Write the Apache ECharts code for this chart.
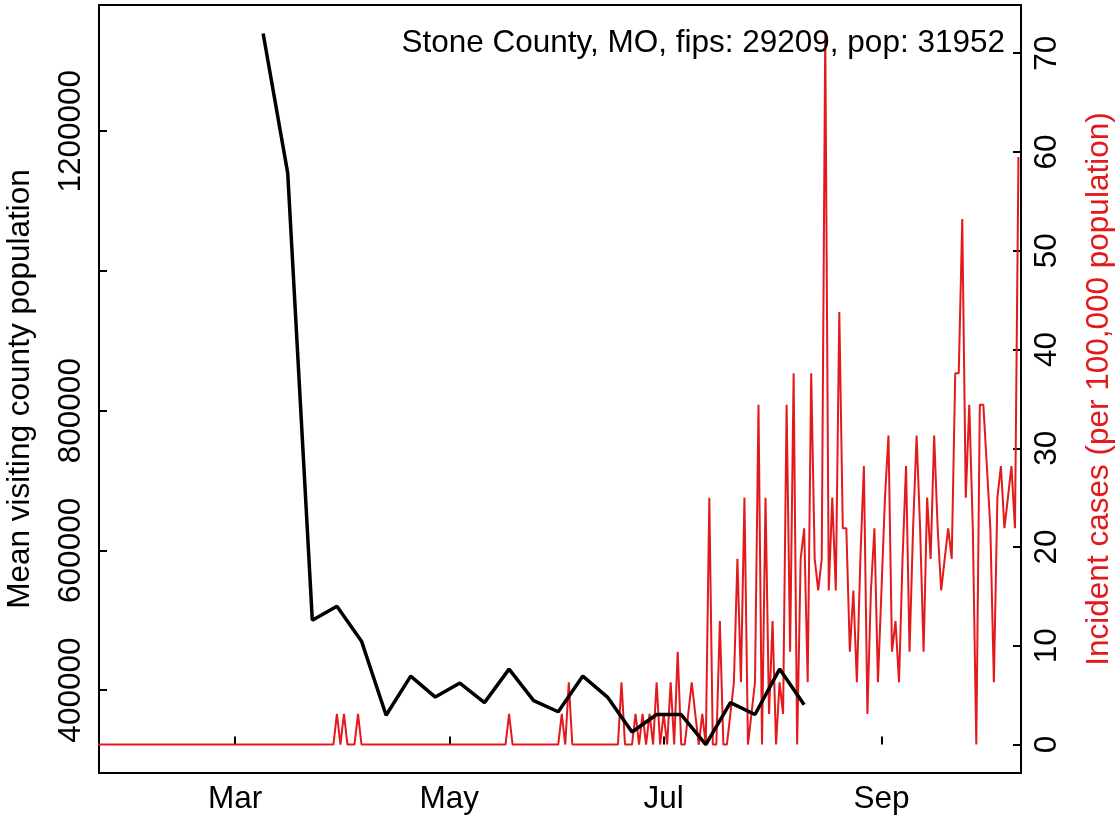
<!DOCTYPE html>
<html>
<head>
<meta charset="utf-8">
<script src="https://cdn.jsdelivr.net/npm/echarts@6/dist/echarts.min.js"></script>
<style>
html,body{margin:0;padding:0;background:#fff;}
#chart{width:1119px;height:822px;}
</style>
</head>
<body>
<div id="chart"></div>
<script>
// ---- data ----
const titleText = 'Stone County, MO, fips: 29209, pop: 31952';
const mobilityStart = '2020-03-09';   // weekly points
const mobility = [1340000, 1140000, 500000, 520000, 470000, 364000, 420000, 390000, 410000, 382000,
                  430000, 385000, 369000, 420000, 390000, 340000, 365000, 365000, 322000, 382000,
                  365000, 430000, 379000];
const casesStart = '2020-01-21';      // daily incident cases per 100,000
const casesJan = [0,0,0,0,0,0,0,0,0,0,0];
const casesFeb = [0,0,0,0,0,0,0,0,0,0,0,0,0,0,0,0,0,0,0,0,0,0,0,0,0,0,0,0,0];
const casesMar = [0,0,0,0,0,0,0,0,0,0,0,0,0,0,0,0,0,0,0,0,0,0,0,0,0,0,0,0,0,3.1,0];
const casesApr = [3.1,0,0,0,3.1,0,0,0,0,0,0,0,0,0,0,0,0,0,0,0,0,0,0,0,0,0,0,0,0,0];
const casesMay = [0,0,0,0,0,0,0,0,0,0,0,0,0,0,0,0,0,3.1,0,0,0,0,0,0,0,0,0,0,0,0,0];
const casesJun = [0,3.1,0,6.3,0,0,0,0,0,0,0,0,0,0,0,0,0,0,6.3,0,0,0,3.1,0,3.1,0,3.1,0,6.3,0];
const casesJul = [3.1,0,6.3,0,9.4,0,0,3.1,6.3,3.1,0,3.1,0,25,0,0,12.5,0,0,3.1,6.3,18.8,6.3,25,0,3.1,6.3,34.4,0,25,3.1];
const casesAug = [12.5,0,6.3,3.1,34.4,9.4,37.6,0,18.8,21.9,6.3,37.6,18.8,15.6,18.8,72,15.6,25,15.6,43.8,21.9,21.9,9.4,15.6,6.3,18.8,28.2,3.1,15.6,21.9,6.3];
const casesSep = [15.6,25,31.3,9.4,12.5,6.3,18.8,28.2,9.4,21.9,31.3,21.9,9.4,25,18.8,31.3,21.9,15.6,18.8,21.9,18.8,37.6,37.6,53.2,25,34.4,21.9,0,34.4,34.4];
const casesOct = [28.2,21.9,6.3,25,28.2,21.9,25,28.2,21.9,59.5];
const monthTicks = ['2020-03-01', '2020-05-01', '2020-07-01', '2020-09-01'];
const monthLabels = ['Mar', 'May', 'Jul', 'Sep'];
const leftTicks = [400000, 600000, 800000, 1000000, 1200000];
const leftLabels = [400000, 600000, 800000, 1200000];
const rightTicks = [0, 10, 20, 30, 40, 50, 60, 70];
const xDataRange = ['2020-02-01', '2020-10-01'];

// ---- build ----
const DAY = 86400000;
function t(s){ return Date.parse(s + 'T00:00:00Z'); }
const cases = [].concat(casesJan, casesFeb, casesMar, casesApr, casesMay, casesJun, casesJul, casesAug, casesSep, casesOct);
const caseData = cases.map((v, i) => [t(casesStart) + i * DAY, v]);
const mobData = mobility.map((v, i) => [t(mobilityStart) + i * 7 * DAY, v]);
const x0 = t(xDataRange[0]), x1 = t(xDataRange[1]);
const pad = 0.04 * (x1 - x0);
const monthTickVals = monthTicks.map(t);
// R-style 4% padding on the y ranges
const mMin = Math.min(...mobility), mMax = Math.max(...mobility);
const cMax = Math.max(...cases), cMin = 0;

const FONT = 'Liberation Sans, Arial, Helvetica, sans-serif';
const FS = 31.5;
const RED = '#e3191c';
const chart = echarts.init(document.getElementById('chart'), null, {renderer: 'canvas'});
chart.setOption({
  animation: false,
  backgroundColor: '#ffffff',
  grid: {left: 99, right: 98, top: 5, bottom: 49, show: true, borderColor: '#000', borderWidth: 2,
         containLabel: false, outerBoundsMode: 'none'},
  xAxis: {
    type: 'value', min: x0 - pad, max: x1 + pad,
    axisLine: {show: false},
    splitLine: {show: false},
    axisTick: {show: true, inside: true, length: 8, lineStyle: {color: '#000', width: 2}, customValues: monthTickVals},
    axisLabel: {
      customValues: monthTickVals, margin: 10, color: '#000', fontSize: FS, fontFamily: FONT,
      formatter: v => monthLabels[monthTickVals.indexOf(v)] || ''
    }
  },
  yAxis: [{
    type: 'value', position: 'left',
    min: mMin - 0.04 * (mMax - mMin), max: mMax + 0.04 * (mMax - mMin),
    axisLine: {show: false}, splitLine: {show: false},
    axisTick: {show: true, inside: true, length: 8, lineStyle: {color: '#000', width: 2}, customValues: leftTicks},
    axisLabel: {customValues: leftLabels, rotate: 90, margin: 12, color: '#000', fontSize: FS, fontFamily: FONT, formatter: v => String(v)},
    name: 'Mean visiting county population', nameLocation: 'middle', nameRotate: 90, nameGap: 63,
    nameTextStyle: {color: '#000', fontSize: FS, fontFamily: FONT}
  }, {
    type: 'value', position: 'right',
    min: cMin - 0.04 * (cMax - cMin), max: cMax + 0.04 * (cMax - cMin),
    axisLine: {show: false}, splitLine: {show: false},
    axisTick: {show: true, inside: true, length: 8, lineStyle: {color: '#000', width: 2}, customValues: rightTicks},
    axisLabel: {customValues: rightTicks, rotate: 90, margin: 10, color: '#000', fontSize: FS, fontFamily: FONT},
    name: 'Incident cases (per 100,000 population)', nameLocation: 'middle', nameRotate: 90, nameGap: 62,
    nameTextStyle: {color: RED, fontSize: FS, fontFamily: FONT}
  }],
  series: [{
    type: 'line', yAxisIndex: 1, data: caseData, showSymbol: false, clip: true,
    lineStyle: {color: RED, width: 2}, z: 2
  }, {
    type: 'line', yAxisIndex: 0, data: mobData, showSymbol: false, clip: true,
    lineStyle: {color: '#000', width: 3.5}, z: 3
  }],
  graphic: [{
    type: 'text', right: 114, top: 27, z: 10,
    style: {text: titleText, fill: '#000', font: FS + 'px ' + FONT}
  }]
});
</script>
</body>
</html>
